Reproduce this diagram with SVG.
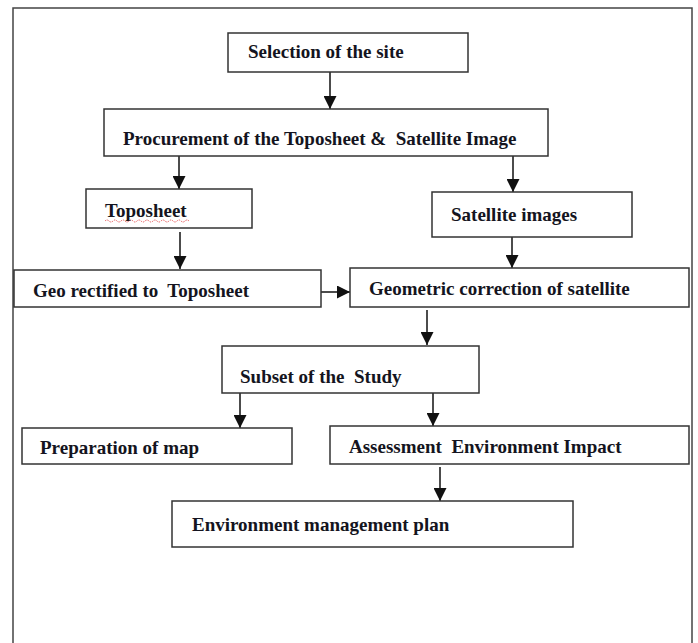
<svg xmlns="http://www.w3.org/2000/svg" width="698" height="643" viewBox="0 0 698 643">
<style>
.box{fill:#fff;stroke:#333;stroke-width:1.5}
.lbl{font-family:"Liberation Serif","Times New Roman",serif;font-weight:bold;font-size:19px;fill:#141420;white-space:pre}
.con{stroke:#111;stroke-width:1.5;fill:none;marker-end:url(#ah)}
</style>
<defs>
<marker id="ah" viewBox="0 0 13 13" refX="13" refY="6.5" markerWidth="13" markerHeight="13" markerUnits="userSpaceOnUse" orient="auto">
<path d="M0,0 L13,6.5 L0,13 z" fill="#111"/>
</marker>
</defs>
<rect width="698" height="643" fill="#fff"/>
<rect x="13" y="8" width="679" height="650" fill="none" stroke="#444" stroke-width="1.5"/>
<g id="connectors">
<line class="con" x1="330" y1="72" x2="330" y2="109"/>
<line class="con" x1="179" y1="156" x2="179" y2="189"/>
<line class="con" x1="513" y1="156" x2="513" y2="192"/>
<line class="con" x1="180" y1="232" x2="180" y2="269"/>
<line class="con" x1="512" y1="237" x2="512" y2="268"/>
<line class="con" x1="321" y1="292" x2="350" y2="292"/>
<line class="con" x1="427" y1="310" x2="427" y2="345"/>
<line class="con" x1="240" y1="393" x2="240" y2="428"/>
<line class="con" x1="433" y1="393" x2="433" y2="426"/>
<line class="con" x1="440" y1="467" x2="440" y2="501"/>
</g>
<g id="n1"><rect class="box" x="228" y="33" width="240" height="39"/><text class="lbl" x="248" y="58">Selection of the site</text></g>
<g id="n2"><rect class="box" x="104" y="109" width="444" height="47"/><text class="lbl" x="123" y="145">Procurement of the Toposheet &amp;  Satellite Image</text></g>
<g id="n3"><rect class="box" x="86" y="189" width="166" height="39"/><text class="lbl" x="105" y="217">Toposheet</text><path d="M105,221 q2,-2 4,0 t4,0 t4,0 t4,0 t4,0 t4,0 t4,0 t4,0 t4,0 t4,0 t4,0 t4,0 t4,0 t4,0 t4,0 t4,0 t4,0 t4,0 t4,0 t4,0 t4,0" fill="none" stroke="#e03a3a" stroke-width="0.8" stroke-dasharray="1.5,1"/></g>
<g id="n4"><rect class="box" x="432" y="192" width="200" height="45"/><text class="lbl" x="451" y="221">Satellite images</text></g>
<g id="n5"><rect class="box" x="14" y="270" width="307" height="37"/><text class="lbl" x="33" y="297">Geo rectified to  Toposheet</text></g>
<g id="n6"><rect class="box" x="350" y="268" width="339" height="39"/><text class="lbl" x="369" y="295">Geometric correction of satellite</text></g>
<g id="n7"><rect class="box" x="222" y="346" width="257" height="47"/><text class="lbl" x="240" y="383">Subset of the  Study</text></g>
<g id="n8"><rect class="box" x="22" y="428" width="270" height="36"/><text class="lbl" x="40" y="454">Preparation of map</text></g>
<g id="n9"><rect class="box" x="330" y="426" width="359" height="38"/><text class="lbl" x="349" y="453">Assessment  Environment Impact</text></g>
<g id="n10"><rect class="box" x="172" y="501" width="401" height="46"/><text class="lbl" x="192" y="531">Environment management plan</text></g>
</svg>
